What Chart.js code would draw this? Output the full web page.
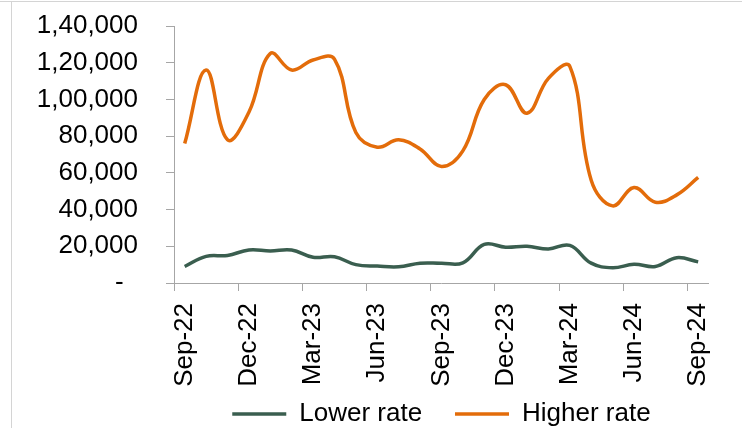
<!DOCTYPE html>
<html>
<head>
<meta charset="utf-8">
<script src="https://cdn.jsdelivr.net/npm/chart.js@4/dist/chart.umd.min.js"></script>
<style>
    html, body { margin: 0; padding: 0; background: #fff; }
    #wrap { position: relative; width: 742px; height: 428px; overflow: hidden; }
    #frame-top { position: absolute; left: 0; top: 1px; width: 742px; height: 1px; background: #d4d4d4; }
    #frame-left { position: absolute; left: 11px; top: 1px; width: 1px; height: 427px; background: #d4d4d4; }
    canvas { position: absolute; left: 0; top: 0; }
</style>
</head>
<body>
<div id="wrap">
    <div id="frame-top"></div>
    <div id="frame-left"></div>
    <canvas id="rate-chart" width="742" height="428"></canvas>
</div>
<script>
( function () {
    'use strict';

    var months = [
        'Sep-22', 'Oct-22', 'Nov-22', 'Dec-22', 'Jan-23', 'Feb-23', 'Mar-23',
        'Apr-23', 'May-23', 'Jun-23', 'Jul-23', 'Aug-23', 'Sep-23', 'Oct-23',
        'Nov-23', 'Dec-23', 'Jan-24', 'Feb-24', 'Mar-24', 'Apr-24', 'May-24',
        'Jun-24', 'Jul-24', 'Aug-24', 'Sep-24'
    ];

    var lowerRate = [
        9000, 14500, 15000, 18000, 17500, 18000, 14000, 14300, 10000, 9200,
        8800, 10800, 10800, 11000, 21000, 19500, 20000, 18500, 20500, 10800,
        8300, 10200, 9000, 13800, 11500
    ];

    var higherRate = [
        76000, 116000, 78000, 93000, 125000, 116000, 121500, 122000, 82000, 74000,
        78000, 73000, 63500, 72000, 100000, 108000, 92500, 111500, 118000, 56000,
        42000, 52000, 44000, 48000, 57500
    ];

    var yTicks = [ 0, 20000, 40000, 60000, 80000, 100000, 120000, 140000 ];

    var green = '#3a5e4f';
    var orange = '#e36c0a';
    var axisGrey = '#a6a6a6';
    var font = { family: '"Liberation Sans", Arial, sans-serif', size: 26 };

    // Indian digit grouping: 1,40,000
    function inr( v ) {
        var s = String( v );
        if ( s.length <= 3 ) return s;
        var rest = s.slice( 0, -3 ).replace( /\B(?=(\d{2})+(?!\d))/g, ',' );
        return rest + ',' + s.slice( -3 );
    }

    new Chart( document.getElementById( 'rate-chart' ), {
        type: 'line',
        data: {
            labels: months,
            datasets: [ {
                label: 'Lower rate',
                data: lowerRate,
                borderColor: green,
                backgroundColor: green,
                borderWidth: 3.5,
                pointRadius: 0,
                tension: 0.4,
            }, {
                label: 'Higher rate',
                data: higherRate,
                borderColor: orange,
                backgroundColor: orange,
                borderWidth: 3.5,
                pointRadius: 0,
                tension: 0.4,
            } ],
        },
        options: {
            responsive: false,
            animation: false,
            layout: { padding: { top: 26, right: 31, bottom: -9, left: 0 } },
            plugins: {
                tooltip: { enabled: false },
                legend: {
                    position: 'bottom',
                    fullSize: false,
                    labels: {
                        color: '#000',
                        font: font,
                        padding: 4,
                        usePointStyle: true,
                        pointStyle: 'line',
                        pointStyleWidth: 54,
                        generateLabels: function ( chart ) {
                            var items = Chart.defaults.plugins.legend.labels.generateLabels( chart );
                            items[ 0 ].text = items[ 0 ].text + '    ';
                            return items;
                        },
                    },
                },
            },
            scales: {
                x: {
                    offset: true,
                    grid: {
                        offset: true,
                        drawOnChartArea: false,
                        tickLength: 8,
                        color: function ( ctx ) {
                            return ( ctx.index !== undefined && ctx.index % 3 === 0 ) ? axisGrey : 'rgba(0,0,0,0)';
                        },
                    },
                    border: { color: axisGrey, width: 1 },
                    ticks: {
                        autoSkip: false,
                        maxRotation: 90,
                        minRotation: 90,
                        padding: 12,
                        color: '#000',
                        font: font,
                        callback: function ( v, i ) {
                            return i % 3 === 0 ? months[ i ] : '';
                        },
                    },
                    afterFit: function ( s ) { s.height = 114; },
                },
                y: {
                    min: 0,
                    max: 140000,
                    grid: { drawOnChartArea: false, tickLength: 8, color: axisGrey },
                    border: { color: axisGrey, width: 1 },
                    afterBuildTicks: function ( s ) {
                        s.ticks = yTicks.map( function ( v ) { return { value: v }; } );
                    },
                    ticks: {
                        padding: 28,
                        color: '#000',
                        font: font,
                        callback: function ( v ) {
                            return v === 0 ? '-  ' : inr( v );
                        },
                    },
                    afterFit: function ( s ) {
                        s.width = 174;
                        s.paddingTop = 0;
                        s.paddingBottom = 0;
                    },
                },
            },
        },
    } );
} )();
</script>
</body>
</html>
